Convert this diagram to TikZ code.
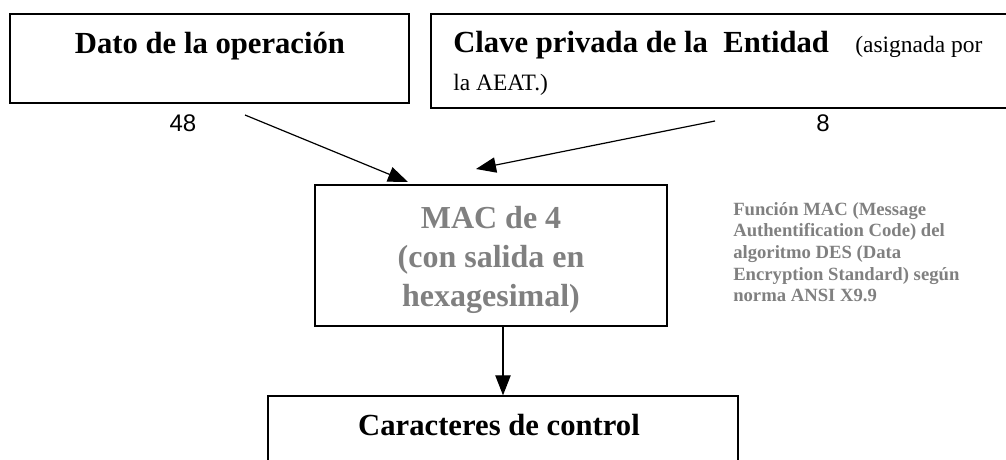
\documentclass[tikz,border=0pt]{standalone}
\usepackage{fontspec}
\setmainfont{Liberation Serif}
\newfontfamily\numfont{Liberation Sans}
\usetikzlibrary{arrows.meta,fit}
\definecolor{macgray}{RGB}{128,128,128}

\tikzset{
  box/.style={draw, line width=1pt, inner sep=0pt},
  flow/.style={line width=0.9pt, -{Triangle[length=15pt,width=11.5pt]}},
  bigtxt/.style={inner sep=0pt, font=\fontsize{23}{28}\selectfont\bfseries},
  mactxt/.style={inner sep=0pt, text=macgray, font=\fontsize{24}{29}\selectfont\bfseries},
  numtxt/.style={inner sep=0pt, font=\numfont\fontsize{18}{22}\selectfont}
}

\begin{document}
\begin{tikzpicture}[x=0.75pt,y=0.75pt,yscale=-1,xscale=1]
\useasboundingbox (0,0) rectangle (1006,460);

% Boxes
\node [box, fit={(10,14) (409,103)}] (dato) {};
\node [box, fit={(431,14) (1030,108)}] (clave) {};
\node [box, fit={(315,185) (667,326)}] (mac) {};
\node [box, fit={(268,396) (738,480)}] (ctrl) {};

% Text Node
\node [bigtxt, anchor=base] (datotxt) at (210,54) {Dato de la operación};
% Text Node
\node [bigtxt, anchor=base west] (clavetxt) at (453,53) {Clave privada de la\ \ Entidad};
% Text Node
\node [inner sep=0pt, anchor=base west, font=\fontsize{17.6}{22}\selectfont] (asigtxt) at (855,53) {(asignada por};
% Text Node
\node [inner sep=0pt, anchor=base west, font=\fontsize{17.6}{22}\selectfont] (aeattxt) at (453,90) {la AEAT.)};
% Text Node
\node [mactxt, anchor=base] (mac1) at (491,228) {MAC de 4};
\node [mactxt, anchor=base] (mac2) at (491,267) {(con salida en};
\node [mactxt, anchor=base] (mac3) at (491,306) {hexagesimal)};
% Text Node
\node [inner sep=0pt, anchor=north west, align=left, text=macgray,
  font=\fontsize{14}{16.2}\selectfont\bfseries] (nota) at (733,202)
  {Función MAC (Message\\Authentification Code) del\\algoritmo DES (Data\\Encryption Standard) según\\norma ANSI X9.9};
% Text Node
\node [bigtxt, anchor=base] (ctrltxt) at (499,435) {Caracteres de control};
% Text Node
\node [numtxt, anchor=base] (n48) at (183,131) {48};
\node [numtxt, anchor=base] (n8) at (823,131) {8};

% Arrow ends
\coordinate (a1s) at (245,115);
\coordinate (a1e) at (408,182);
\coordinate (a2s) at (715,121);
\coordinate (a2e) at (476,169);

% Straight Lines
\draw [flow] (a1s) -- (a1e);
\draw [flow] (a2s) -- (a2e);
\draw [flow] (mac.south -| ctrl.north) -- (ctrl.north);

\end{tikzpicture}
\end{document}
